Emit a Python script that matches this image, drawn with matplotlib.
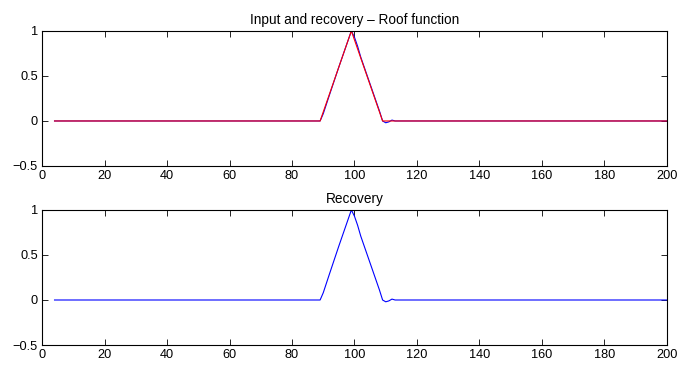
import numpy as np
import matplotlib.pyplot as plt

plt.rcParams['font.family'] = ['Liberation Sans', 'DejaVu Sans']
plt.rcParams['font.size'] = 9

# roof input (breakpoints)
x_input = [4, 89, 99, 109, 200]
y_input = [0, 0, 1, 0, 0]

# recovered signal
x_rec = [4, 89, 90, 92, 95, 98, 99, 100, 101, 102, 104, 106, 108, 109, 110, 111, 112, 113, 114, 200]
y_rec = [0, 0, 0.08, 0.29, 0.6, 0.9, 1.0, 0.93, 0.83, 0.71, 0.51, 0.31, 0.11, 0.0, -0.02, -0.01, 0.01, 0.0, 0.0, 0]

fig = plt.figure(figsize=(6.8, 3.67), dpi=100)
ax1 = fig.add_axes([0.0618, 0.5477, 0.919, 0.368])
ax2 = fig.add_axes([0.0618, 0.0599, 0.919, 0.368])

ax1.plot(x_rec, y_rec, color='blue', lw=0.8)
ax1.plot(x_input, y_input, color='red', lw=0.8)
ax1.set_title('Input and recovery \u2013 Roof function', fontsize=9.8, pad=5)

ax2.plot(x_rec, y_rec, color='blue', lw=0.8)
ax2.set_title('Recovery', fontsize=9.8, pad=5)

for ax in (ax1, ax2):
    ax.set_xlim(0, 200)
    ax.set_ylim(-0.5, 1)
    ax.set_xticks(np.arange(0, 201, 20))
    ax.set_yticks([-0.5, 0, 0.5, 1])
    ax.set_yticklabels(['\u22120.5', '0', '0.5', '1'])
    ax.tick_params(direction='in', top=True, right=True, length=4, width=0.6,
                   labelsize=9.2, pad=3)
    for s in ax.spines.values():
        s.set_linewidth(0.8)

fig.savefig('out.png', dpi=100)
